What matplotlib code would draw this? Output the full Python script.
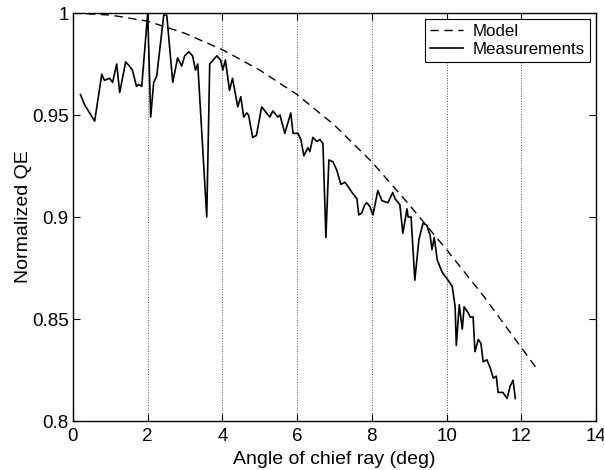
import matplotlib
matplotlib.use("Agg")
import matplotlib.pyplot as plt

plt.rcParams['font.family'] = ['Liberation Sans', 'DejaVu Sans']

# Model curve
model_x = [0.0, 1.0, 2.0, 3.0, 4.0, 5.0, 6.0, 7.0, 8.0, 9.0, 10.0, 11.0, 12.0, 12.4]
model_y = [1.000, 0.999, 0.996, 0.990, 0.982, 0.972, 0.960, 0.945, 0.927, 0.906, 0.884, 0.861, 0.836, 0.826]

meas_x = [0.20, 0.31, 0.58, 0.77, 0.84, 0.98, 1.06, 1.17, 1.25, 1.41, 1.51, 1.59, 1.70, 1.76, 1.84,
          2.00, 2.08, 2.16, 2.24, 2.43, 2.51, 2.67, 2.80, 2.91, 2.99, 3.10, 3.20, 3.28, 3.34,
          3.58, 3.66, 3.85, 3.95, 4.01, 4.08, 4.19, 4.27, 4.41, 4.49, 4.57, 4.65, 4.70, 4.81,
          4.91, 5.05, 5.18, 5.27, 5.35, 5.48, 5.54, 5.67, 5.83, 5.89, 6.02, 6.10, 6.18, 6.29,
          6.34, 6.42, 6.53, 6.61, 6.69, 6.77, 6.85, 6.96, 7.06, 7.17, 7.28, 7.36, 7.47, 7.60,
          7.65, 7.73, 7.81, 7.87, 7.95, 8.03, 8.16, 8.27, 8.43, 8.56, 8.62, 8.75, 8.83, 8.94,
          8.97, 9.05, 9.15, 9.26, 9.37, 9.47, 9.56, 9.61, 9.67, 9.75, 9.88, 10.04, 10.15, 10.23,
          10.26, 10.34, 10.42, 10.47, 10.58, 10.63, 10.71, 10.76, 10.85, 10.92, 10.98, 11.08,
          11.17, 11.25, 11.33, 11.38, 11.51, 11.62, 11.70, 11.78, 11.84]
meas_y = [0.960, 0.955, 0.947, 0.970, 0.967, 0.968, 0.966, 0.975, 0.961, 0.976, 0.974, 0.972, 0.964, 0.965, 0.964,
          1.000, 0.949, 0.966, 0.969, 0.999, 0.999, 0.966, 0.978, 0.974, 0.979, 0.981, 0.979, 0.972, 0.975,
          0.900, 0.975, 0.979, 0.977, 0.972, 0.977, 0.962, 0.968, 0.954, 0.959, 0.949, 0.951, 0.950, 0.939,
          0.940, 0.954, 0.951, 0.949, 0.952, 0.949, 0.950, 0.941, 0.951, 0.941, 0.941, 0.938, 0.930, 0.934,
          0.932, 0.939, 0.937, 0.938, 0.936, 0.890, 0.928, 0.927, 0.923, 0.916, 0.917, 0.915, 0.912, 0.909,
          0.901, 0.902, 0.906, 0.907, 0.905, 0.901, 0.913, 0.908, 0.907, 0.912, 0.909, 0.906, 0.892, 0.904,
          0.900, 0.900, 0.869, 0.889, 0.897, 0.896, 0.891, 0.884, 0.890, 0.879, 0.873, 0.869, 0.866, 0.856,
          0.837, 0.857, 0.845, 0.856, 0.853, 0.851, 0.851, 0.834, 0.840, 0.838, 0.829, 0.830,
          0.826, 0.821, 0.822, 0.814, 0.814, 0.811, 0.817, 0.820, 0.811]

x_ticks = [0, 2, 4, 6, 8, 10, 12, 14]
y_ticks = [0.8, 0.85, 0.9, 0.95, 1.0]
y_tick_labels = ["0.8", "0.85", "0.9", "0.95", "1"]

fig = plt.figure(figsize=(6.04, 4.70), dpi=100)
ax = fig.add_axes([73/604, 49/470, 523/604, 408/470])

ax.plot(model_x, model_y, color='black', linestyle=(0, (6, 4)), linewidth=1.0, label='Model')
ax.plot(meas_x, meas_y, color='black', linestyle='-', linewidth=1.2, label='Measurements')

ax.set_xlim(0, 14)
ax.set_ylim(0.8, 1.0)
ax.set_xticks(x_ticks)
ax.set_xticklabels([str(t) for t in x_ticks])
ax.set_yticks(y_ticks)
ax.set_yticklabels(y_tick_labels)
ax.tick_params(direction='in', top=True, right=True, length=5, width=0.8, labelsize=13.5)
ax.tick_params(axis='x', pad=5)
ax.tick_params(axis='y', pad=3)
ax.grid(True, axis='x', linestyle=':', color='black', linewidth=0.7, alpha=0.7)
for s in ax.spines.values():
    s.set_linewidth(1.0)

ax.set_xlabel('Angle of chief ray (deg)', fontsize=14, labelpad=4)
ax.set_ylabel('Normalized QE', fontsize=14, labelpad=0)

leg = ax.legend(loc='upper right', fontsize=12.2, frameon=True, fancybox=False,
                edgecolor='black', framealpha=1, borderaxespad=0.35, handlelength=1.9,
                handletextpad=0.6, borderpad=0.3, labelspacing=0.2)
leg.get_frame().set_linewidth(0.8)

fig.savefig('out.png', dpi=100)
